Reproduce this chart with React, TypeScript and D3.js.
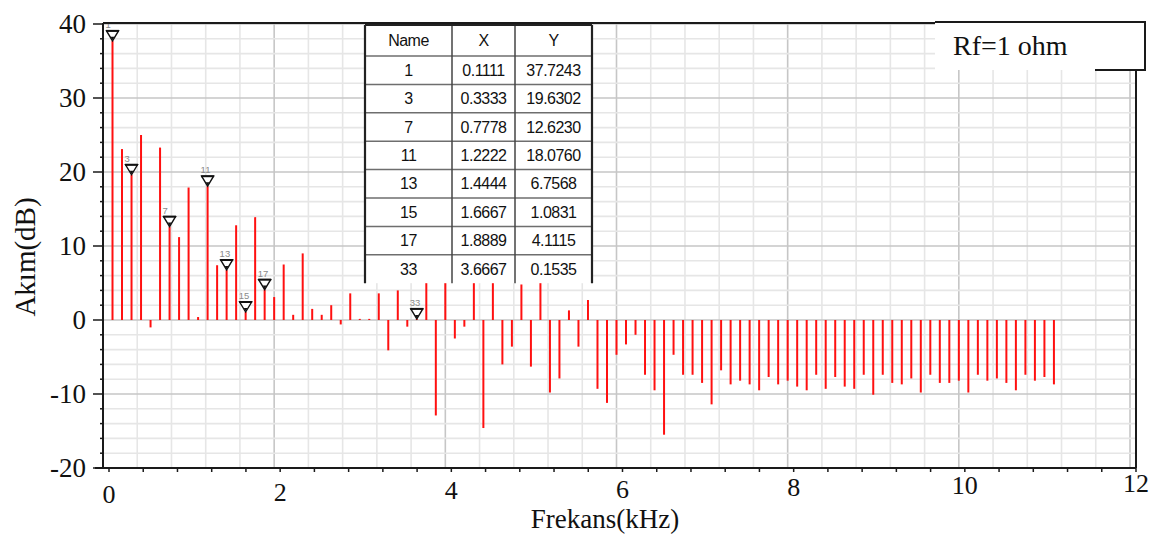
import * as d3 from "d3";

// harmonic amplitudes (dB), harmonic 1..100, fundamental = 1/9 kHz
const harmonicDb = [
  37.72, 23.1, 19.63, 25.0, -1.0, 23.3, 12.62, 11.2, 17.9, 0.4,
  18.08, 7.4, 6.76, 12.8, 1.08, 13.9, 4.11, 3.1, 7.5, 0.7,
  9.0, 1.5, 0.7, 2.0, -0.6, 3.6, 0.15, 0.15, 3.6, -4.1,
  4.0, -0.9, 0.15, 6.5, -12.9, 7.0, -2.5, -0.9, 6.0, -14.6,
  6.5, -6.0, -3.6, 4.8, -6.3, 5.5, -9.8, -7.9, 1.3, -3.6,
  2.7, -9.3, -11.2, -4.7, -3.3, -2.0, -7.4, -9.5, -15.5, -4.7,
  -7.4, -7.4, -8.5, -11.4, -6.8, -8.7, -8.2, -8.7, -9.5, -7.7,
  -8.7, -8.2, -9.0, -9.5, -7.4, -9.3, -7.7, -9.0, -9.3, -7.4,
  -10.1, -7.4, -8.5, -8.7, -7.9, -9.8, -7.4, -8.5, -8.5, -8.2,
  -9.8, -7.4, -8.2, -7.9, -8.5, -9.5, -7.4, -8.2, -7.7, -8.7,
];
const fundamentalKHz = 1 / 9;

const markerNames = [1, 3, 7, 11, 13, 15, 17, 33];
const markerXText = ["0.1111", "0.3333", "0.7778", "1.2222", "1.4444", "1.6667", "1.8889", "3.6667"];
const markerYText = ["37.7243", "19.6302", "12.6230", "18.0760", "6.7568", "1.0831", "4.1115", "0.1535"];
const tableHeader = ["Name", "X", "Y"];

const xTicks = [0, 2, 4, 6, 8, 10, 12];
const yTicks = [40, 30, 20, 10, 0, -10, -20];

const W = 1159;
const H = 535;
const plotTop = 24;
const plotBottom = 468;
const plotLeft = 103;
const plotRight = 1136;
const tickShift = 6; // tick marks sit a few px right of the grid in the original

const x = d3.scaleLinear().domain([0, 12]).range([103, 1130]);
const y = d3.scaleLinear().domain([-20, 40]).range([plotBottom, plotTop]);

const serif = "'Liberation Serif', 'Times New Roman', serif";
const sans = "'Liberation Sans', Arial, sans-serif";

const App = () => {
  const bars = harmonicDb.map((v, i) => ({ n: i + 1, f: (i + 1) * fundamentalKHz, v }));
  const xGrid = d3.range(0, 12.001, 0.4);
  const yGrid = d3.range(-20, 40.001, 2);

  // table geometry
  const cols = [365, 452, 515, 592];
  const tTop = 25;
  const headH = 31;
  const rowH = 28.4;
  const rowsY = [tTop, ...markerNames.map((_, i) => tTop + headH + i * rowH)];
  const tBottom = tTop + headH + markerNames.length * rowH;

  return (
    <svg
      width={W}
      height={H}
      style={{ position: "absolute", left: 0, top: 0, background: "#fff" }}
    >
      <defs>
        <clipPath id="plotClip">
          <rect x={plotLeft} y={plotTop} width={plotRight - plotLeft} height={plotBottom - plotTop} />
        </clipPath>
      </defs>

      {/* grid */}
      <g>
        {xGrid.map((v) => {
          const major = Math.abs(v / 2 - Math.round(v / 2)) < 1e-6;
          return (
            <line
              key={"gx" + v}
              x1={x(v)}
              x2={x(v)}
              y1={plotTop}
              y2={plotBottom}
              stroke={major ? "#c6c6c6" : "#e6e6e6"}
              strokeWidth={1.6}
            />
          );
        })}
        {yGrid.map((v) => {
          const major = v % 10 === 0;
          return (
            <line
              key={"gy" + v}
              x1={plotLeft}
              x2={plotRight}
              y1={y(v)}
              y2={y(v)}
              stroke={major ? "#c6c6c6" : "#e6e6e6"}
              strokeWidth={1.6}
            />
          );
        })}
      </g>

      {/* bars */}
      <g clipPath="url(#plotClip)">
        {bars.map((d) => (
          <line
            key={"b" + d.n}
            x1={x(d.f)}
            x2={x(d.f)}
            y1={y(0)}
            y2={y(d.v)}
            stroke="#ff1010"
            strokeWidth={2}
          />
        ))}
      </g>

      {/* markers */}
      <g clipPath="url(#plotClip)">
        {markerNames.map((n) => {
          const d = bars[n - 1];
          const cx = x(d.f);
          const cy = y(d.v);
          return (
            <g key={"m" + n}>
              <path
                d={`M${cx - 6},${cy - 10} L${cx + 6},${cy - 10} L${cx},${cy} Z`}
                fill="#fff"
                stroke="#111"
                strokeWidth={1.4}
              />
              <line x1={cx - 6.5} x2={cx + 6.5} y1={cy - 10} y2={cy - 10} stroke="#111" strokeWidth={2} />
              <path d={`M${cx - 2},${cy - 4} L${cx + 2},${cy - 4} L${cx},${cy - 1} Z`} fill="#111" />
              <text x={cx - 7} y={cy - 13} fontFamily={sans} fontSize={9.5} fill="#8a8a8a">
                {n}
              </text>
            </g>
          );
        })}
      </g>

      {/* axes frame */}
      <g stroke="#1a1a1a" strokeWidth={2}>
        <line x1={plotLeft} x2={plotLeft} y1={plotTop - 1} y2={plotBottom} />
        <line x1={95} x2={plotRight} y1={plotBottom} y2={plotBottom} />
        <line x1={plotRight} x2={plotRight} y1={70} y2={plotBottom} />
        <line x1={plotLeft} x2={935} y1={23} y2={23} />
      </g>

      {/* ticks */}
      <g stroke="#1a1a1a" strokeWidth={1.5}>
        {yGrid.map((v) => (
          <line
            key={"ty" + v}
            x1={plotLeft}
            x2={plotLeft - (v % 10 === 0 ? 10 : 3)}
            y1={y(v)}
            y2={y(v)}
          />
        ))}
        {xGrid.map((v) => (
          <line
            key={"tx" + v}
            x1={x(v) + tickShift}
            x2={x(v) + tickShift}
            y1={plotBottom}
            y2={plotBottom + 4}
          />
        ))}
      </g>

      {/* tick labels */}
      <g fontFamily={serif} fill="#111">
        {yTicks.map((v) => (
          <text key={"ly" + v} x={86} y={y(v)} dy="0.35em" textAnchor="end" fontSize={27}>
            {v}
          </text>
        ))}
        {xTicks.map((v) => (
          <text
            key={"lx" + v}
            x={x(v) + tickShift}
            y={503 - v * 0.9}
            textAnchor="middle"
            fontSize={26}
          >
            {v}
          </text>
        ))}
      </g>

      {/* axis titles */}
      <text x={605} y={528} textAnchor="middle" fontFamily={serif} fontSize={27} fill="#111">
        Frekans(kHz)
      </text>
      <text
        transform="translate(35,257) rotate(-90)"
        textAnchor="middle"
        fontFamily={serif}
        fontSize={29}
        fill="#111"
      >
        Akım(dB)
      </text>

      {/* marker table */}
      <g fontFamily={sans} fontSize={16} fill="#111" letterSpacing={-0.5}>
        <rect x={cols[0]} y={tTop} width={cols[3] - cols[0]} height={tBottom - tTop} fill="#fff" />
        {rowsY.slice(1).map((ry, i) => (
          <line key={"tr" + i} x1={cols[0]} x2={cols[3]} y1={ry} y2={ry} stroke="#6e6e6e" strokeWidth={1.5} />
        ))}
        <line x1={cols[1]} x2={cols[1]} y1={tTop} y2={tBottom} stroke="#444" strokeWidth={1.5} />
        <line x1={cols[2]} x2={cols[2]} y1={tTop} y2={tBottom} stroke="#444" strokeWidth={1.5} />
        <line x1={cols[0]} x2={cols[0]} y1={tTop} y2={tBottom} stroke="#222" strokeWidth={2.2} />
        <line x1={cols[3]} x2={cols[3]} y1={tTop} y2={tBottom} stroke="#222" strokeWidth={2.2} />
        <line x1={cols[0]} x2={cols[3]} y1={tTop} y2={tTop} stroke="#222" strokeWidth={2.2} />
        {tableHeader.map((h, j) => (
          <text
            key={"th" + j}
            x={(cols[j] + cols[j + 1]) / 2}
            y={tTop + headH / 2}
            dy="0.35em"
            textAnchor="middle"
          >
            {h}
          </text>
        ))}
        {markerNames.map((n, i) => {
          const cy = tTop + headH + i * rowH + rowH / 2;
          const cells = [String(n), markerXText[i], markerYText[i]];
          return cells.map((c, j) => (
            <text
              key={"td" + i + "-" + j}
              x={(cols[j] + cols[j + 1]) / 2}
              y={cy}
              dy="0.35em"
              textAnchor="middle"
            >
              {c}
            </text>
          ));
        })}
      </g>

      {/* legend box */}
      <g>
        <rect x={935} y={22} width={210} height={48} fill="#fff" />
        <line x1={935} x2={1146} y1={22} y2={22} stroke="#1a1a1a" strokeWidth={2} />
        <line x1={1145} x2={1145} y1={21} y2={71} stroke="#1a1a1a" strokeWidth={2} />
        <line x1={1095} x2={1146} y1={70} y2={70} stroke="#1a1a1a" strokeWidth={2} />
        <text x={953} y={55} fontFamily={serif} fontSize={28} fill="#111">
          Rf=1 ohm
        </text>
      </g>
    </svg>
  );
};

export default App;
